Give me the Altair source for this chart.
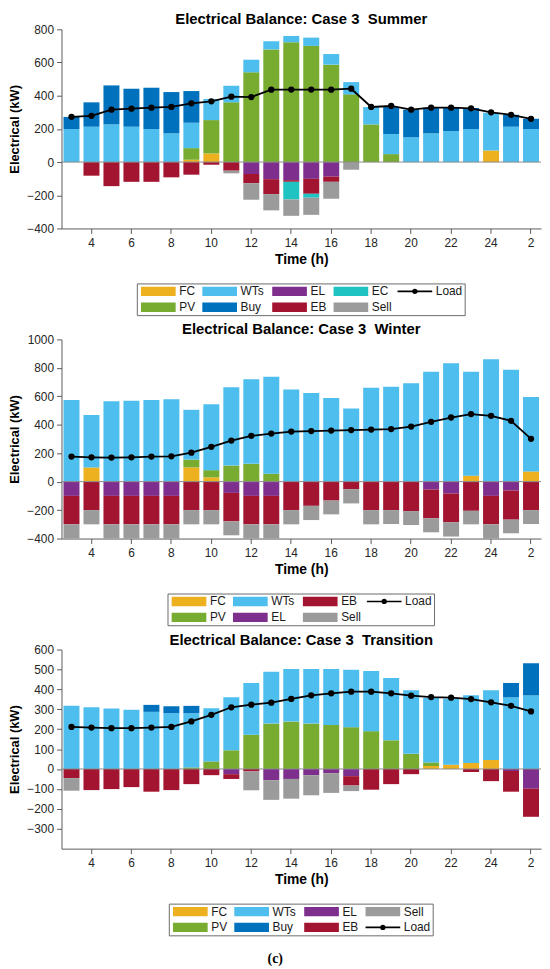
import altair as alt
import pandas as pd

# ---------------- data ----------------
HOURS = [str(h) for h in range(3, 25)] + ["1", "2"]
TICK_LABELS = ["4", "6", "8", "10", "12", "14", "16", "18", "20", "22", "24", "2"]

COMPONENTS = ["FC", "PV", "WTs", "Buy", "EL", "EB", "EC", "Sell"]
COLORS = ["#EDB120", "#77AC30", "#4DBEEE", "#0072BD", "#7E2F8E", "#A2142F", "#1FC3C1", "#9B9B9B"]

# Summer
SU_FC = [0, 0, 0, 0, 0, 0, 14, 52, 0, 0, 0, 0, 0, 0, 0, 0, 0, 0, 0, 0, 0, 70, 0, 0]
SU_PV = [0, 0, 0, 0, 0, 0, 70, 201, 360, 541, 679, 722, 700, 587, 408, 227, 48, 0, 0, 0, 0, 0, 0, 0]
SU_WT = [199, 213, 227, 213, 199, 173, 153, 127, 100, 76, 49, 38, 50, 64, 74, 105, 121, 149, 173, 187, 199, 227, 213, 199]
SU_BUY = [73, 147, 235, 229, 249, 249, 191, 0, 0, 0, 0, 0, 0, 0, 0, 0, 163, 167, 155, 141, 127, 0, 72, 62]
SU_EL = [0, 0, 0, 0, 0, 0, 0, 0, 0, -72, -103, -109, -101, -88, 0, 0, 0, 0, 0, 0, 0, 0, 0, 0]
SU_EB = [0, -82, -145, -119, -119, -92, -76, -16, -52, -55, -90, -10, -90, -31, 0, 0, 0, 0, 0, 0, 0, 0, 0, 0]
SU_EC = [0, 0, 0, 0, 0, 0, 0, 0, 0, 0, 0, -106, -24, 0, 0, 0, 0, 0, 0, 0, 0, 0, 0, 0]
SU_SELL = [0, 0, 0, 0, 0, 0, 0, 0, -16, -100, -98, -99, -103, -102, -46, 0, 0, 0, 0, 0, 0, 0, 0, 0]
SU_LOAD = [273, 279, 316, 322, 328, 332, 354, 366, 394, 392, 436, 437, 437, 436, 442, 332, 338, 316, 328, 328, 324, 300, 285, 261]

# Winter
WI_FC = [0, 100, 0, 0, 0, 0, 100, 30, 0, 0, 0, 0, 0, 0, 0, 0, 0, 0, 0, 0, 42, 0, 0, 72]
WI_PV = [0, 0, 0, 0, 0, 0, 55, 51, 113, 125, 56, 0, 0, 0, 0, 3, 0, 0, 0, 0, 0, 0, 0, 0]
WI_WT = [574, 368, 565, 569, 574, 579, 350, 463, 551, 595, 682, 648, 623, 588, 514, 657, 667, 692, 773, 833, 731, 861, 787, 523]
WI_EL = [-100, 0, -100, -100, -100, -100, 0, 0, -79, -100, -100, 0, 0, 0, 0, 0, 0, 0, -56, -84, 0, -100, -63, 0]
WI_EB = [-200, -200, -200, -200, -200, -200, -200, -200, -200, -200, -200, -200, -170, -133, -53, -200, -200, -207, -202, -202, -205, -200, -204, -200]
WI_SELL = [-100, -100, -100, -100, -100, -100, -100, -100, -98, -100, -100, -100, -100, -97, -100, -100, -98, -98, -98, -100, -95, -100, -96, -98]
WI_LOAD = [176, 171, 169, 171, 176, 178, 204, 245, 289, 322, 338, 352, 356, 359, 363, 366, 370, 387, 421, 451, 475, 463, 428, 301]

# Transition
TR_FC = [0, 0, 0, 0, 0, 0, 0, 0, 0, 0, 0, 0, 0, 0, 0, 0, 0, 0, 15, 21, 30, 45, 0, 0]
TR_PV = [0, 0, 0, 0, 0, 0, 8, 38, 94, 172, 228, 238, 228, 221, 210, 190, 144, 76, 18, 0, 0, 0, 0, 0]
TR_WT = [318, 310, 304, 297, 287, 280, 272, 267, 266, 260, 260, 264, 274, 281, 288, 302, 313, 320, 323, 332, 340, 351, 360, 370]
TR_BUY = [0, 0, 0, 0, 35, 35, 37, 0, 0, 0, 0, 0, 0, 0, 0, 0, 0, 0, 0, 0, 0, 0, 72, 161]
TR_EL = [0, 0, 0, 0, 0, 0, 0, 0, -26, 0, -56, -50, -31, -21, -36, 0, 0, 0, 0, 0, 0, 0, -10, -99]
TR_EB = [-46, -106, -101, -91, -114, -106, -76, -31, -24, -12, 0, 0, 0, 0, -47, -104, -76, -26, 0, 0, -15, -61, -104, -141]
TR_SELL = [-63, 0, 0, 0, 0, 0, 0, 0, 0, -95, -99, -99, -101, -99, -28, 0, 0, 0, 0, 0, 0, 0, 0, 0]
TR_LOAD = [211, 208, 205, 205, 208, 211, 239, 272, 310, 323, 333, 352, 370, 380, 388, 388, 380, 368, 361, 358, 351, 335, 317, 289]

SU_LEGEND = ["FC", "PV", "WTs", "Buy", "EL", "EB", "EC", "Sell", "Load"]
WI_LEGEND = ["FC", "PV", "WTs", "EL", "EB", "Sell", "Load"]
TR_LEGEND = ["FC", "PV", "WTs", "Buy", "EL", "EB", "Sell", "Load"]

# ---------------- style ----------------
FONT = "Liberation Sans"
W, H = 484, 201
YTITLE = "Electrical (kW)"
AW = {'F': 611, 'C': 722, 'P': 667, 'V': 667, 'W': 944, 'T': 611, 's': 500, 'B': 667,
      'u': 556, 'y': 500, 'E': 667, 'L': 556, 'e': 556, 'l': 222, 'o': 556, 'a': 556, 'd': 556}
RECT_PATH = "M-1,-0.27H1V0.27H-1Z"
SW, GAP, COLGAP, PADL, PADR, ROWH, BOXH = 35, 3.6, 7.3, 3.7, 3.0, 16, 32


def text_w(s, size=12):
    return sum(AW.get(c, 556) for c in s) * size / 1000


def legend_layers(names):
    color_of = dict(zip(COMPONENTS, COLORS))
    cols = [names[i:i + 2] for i in range(0, len(names), 2)]
    widths = [SW + GAP + max(text_w(n) for n in c) for c in cols]
    total = PADL + sum(widths) + COLGAP * (len(cols) - 1) + PADR
    left = W / 2 - total / 2
    top = H + 56
    rows = []
    x = left + PADL
    for c, w in zip(cols, widths):
        for r, n in enumerate(c):
            rows.append(dict(name=n, sx=x + SW / 2, x1=x, x2=x + SW, tx=x + SW + GAP,
                             sy=top + 7.5 + ROWH * r, color=color_of.get(n, "#000000")))
        x += w + COLGAP
    df = pd.DataFrame(rows)
    box = pd.DataFrame([dict(bx1=left, bx2=left + total, by1=top, by2=top + BOXH)])

    def X(f):
        return alt.X(f, scale=None, axis=None)

    def Y(f):
        return alt.Y(f, scale=None, axis=None)

    box_l = alt.Chart(box).mark_rect(fill="white", stroke="#6a6a6a", strokeWidth=1).encode(
        x=X("bx1:Q"), x2="bx2:Q", y=Y("by1:Q"), y2="by2:Q")
    sw = alt.Chart(df[df["name"] != "Load"]).mark_point(
        shape=RECT_PATH, size=SW * SW, filled=True, opacity=1, strokeWidth=0).encode(
        x=X("sx:Q"), y=Y("sy:Q"), color=alt.Color("color:N", scale=None))
    ld = df[df["name"] == "Load"]
    ln = alt.Chart(ld).mark_rule(color="black", strokeWidth=1.6).encode(
        x=X("x1:Q"), x2="x2:Q", y=Y("sy:Q"))
    dot = alt.Chart(ld).mark_point(filled=True, size=28, color="black", opacity=1).encode(
        x=X("sx:Q"), y=Y("sy:Q"))
    txt = alt.Chart(df).mark_text(align="left", baseline="middle", fontSize=12, font=FONT,
                                  color="#1a1a1a").encode(x=X("tx:Q"), y=Y("sy:Q"), text="name:N")
    return [box_l, sw, ln, dot, txt]


def panel(title, series, load, ydom, yvals, legend_names):
    rows = []
    for k, comp in enumerate(COMPONENTS):
        vals = series.get(comp)
        if vals is None:
            continue
        for h, v in zip(HOURS, vals):
            if v != 0:
                rows.append({"hour": h, "comp": comp, "value": v, "ord": k})
    bars_df = pd.DataFrame(rows)
    xscale = alt.Scale(domain=HOURS, paddingInner=0.2, paddingOuter=0.1)
    yscale = alt.Scale(domain=ydom, nice=False, zero=False)

    def xaxis():
        return alt.Axis(values=TICK_LABELS, labelAngle=0, title="Time (h)", titleFontSize=14,
                        labelPadding=4, titlePadding=4, labelOverlap=False)

    def yaxis():
        return alt.Axis(values=yvals, format="d", title=YTITLE, titleFontSize=13,
                        titlePadding=5, labelPadding=3, labelOverlap=False)

    bars = alt.Chart(bars_df).mark_bar().encode(
        x=alt.X("hour:O", sort=HOURS, scale=xscale, axis=xaxis()),
        y=alt.Y("value:Q", stack="zero", scale=yscale, axis=yaxis()),
        color=alt.Color("comp:N", scale=alt.Scale(domain=COMPONENTS, range=COLORS), legend=None),
        order=alt.Order("ord:Q"),
    )
    zero = alt.Chart(pd.DataFrame({"z": [0]})).mark_rule(color="#8a8a8a", strokeWidth=1).encode(
        y=alt.Y("z:Q", scale=yscale, axis=yaxis()))
    line_df = pd.DataFrame({"hour": HOURS, "load": load, "idx": list(range(len(HOURS)))})
    line = alt.Chart(line_df).mark_line(
        color="black", strokeWidth=1.8,
        point=alt.OverlayMarkDef(filled=True, size=40, color="black", opacity=1)).encode(
        x=alt.X("hour:O", sort=HOURS, scale=xscale, axis=xaxis()),
        y=alt.Y("load:Q", scale=yscale, axis=yaxis()),
        order=alt.Order("idx:Q"),
    )
    return alt.layer(bars, zero, line, *legend_layers(legend_names)).properties(
        width=W, height=H,
        title=alt.TitleParams(title, fontSize=15, fontWeight="bold", font=FONT, offset=-4, color="black"),
    )


summer = panel("Electrical Balance: Case 3\u00a0 Summer",
               {"FC": SU_FC, "PV": SU_PV, "WTs": SU_WT, "Buy": SU_BUY,
                "EL": SU_EL, "EB": SU_EB, "EC": SU_EC, "Sell": SU_SELL},
               SU_LOAD, [-400, 800], [-400, -200, 0, 200, 400, 600, 800], SU_LEGEND)
winter = panel("Electrical Balance: Case 3\u00a0 Winter",
               {"FC": WI_FC, "PV": WI_PV, "WTs": WI_WT,
                "EL": WI_EL, "EB": WI_EB, "Sell": WI_SELL},
               WI_LOAD, [-400, 1000], [-400, -200, 0, 200, 400, 600, 800, 1000], WI_LEGEND)
transition = panel("Electrical Balance: Case 3\u00a0 Transition",
                   {"FC": TR_FC, "PV": TR_PV, "WTs": TR_WT, "Buy": TR_BUY,
                    "EL": TR_EL, "EB": TR_EB, "Sell": TR_SELL},
                   TR_LOAD, [-400, 600], [-300, -200, -100, 0, 100, 200, 300, 400, 500, 600], TR_LEGEND)

chart = alt.vconcat(summer, winter, transition, spacing=6).properties(
    title=alt.TitleParams("(c)", orient="bottom", anchor="middle", font="Liberation Serif",
                          fontSize=14, fontWeight="bold", offset=16, color="black"),
    padding={"left": 0, "top": 0, "right": 0, "bottom": 2},
).configure_view(stroke=None).configure_axis(
    labelFont=FONT, labelFontSize=12, labelColor="#262626",
    titleFont=FONT, titleFontWeight="bold", titleColor="black",
    domainColor="#5a5a5a", tickColor="#5a5a5a", tickSize=5, grid=False,
).configure_text(font=FONT)

chart.save("out.html", embed_options={"renderer": "svg", "actions": False})
